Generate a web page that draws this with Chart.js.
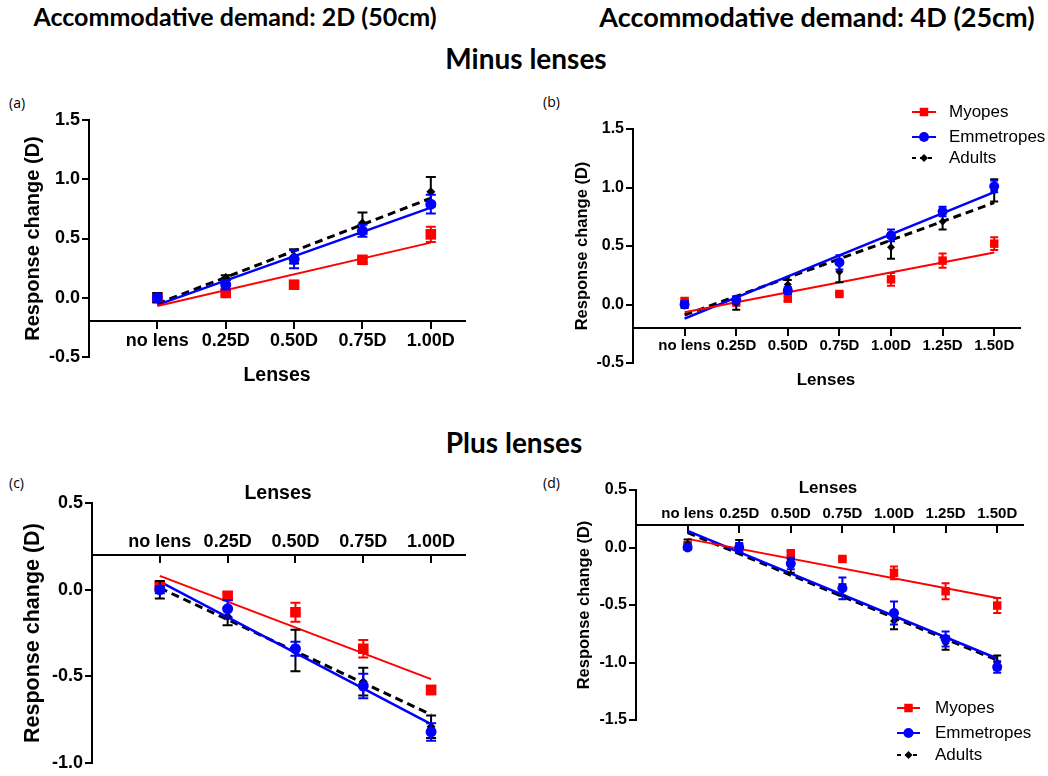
<!DOCTYPE html>
<html>
<head>
<meta charset="utf-8">
<title>Response change by lens power</title>
<script src="https://cdn.jsdelivr.net/npm/chart.js@4.4.0/dist/chart.umd.min.js"></script>
<style>
  body { margin: 0; background: #fff; }
  #page { position: relative; width: 1048px; height: 776px; overflow: hidden; background: #fff; }
  canvas { position: absolute; }
  .title { position: absolute; font-family: Lato, 'Open Sans', sans-serif; font-weight: 700; color: #000;
           white-space: nowrap; line-height: 1; transform: translate(-50%, -50%); }
  .xtitle { position: absolute; font-family: 'Liberation Sans', Arial, sans-serif; font-weight: 700; color: #000;
            white-space: nowrap; line-height: 1; transform: translate(-50%, -50%); }
  .tag { position: absolute; font-family: 'Open Sans', sans-serif; font-size: 14px; line-height: 1; color: #000;
         transform: translateY(-50%); }
</style>
</head>
<body>
<div id="page">
  <div class="title" style="left:235px;top:16px;font-size:25px">Accommodative demand: 2D (50cm)</div>
  <div class="title" style="left:817px;top:16px;font-size:27px">Accommodative demand: 4D (25cm)</div>
  <div class="title" style="left:526px;top:58px;font-size:28px">Minus lenses</div>
  <div class="title" style="left:514px;top:442px;font-size:28px">Plus lenses</div>

  <div class="tag" style="left:9px;top:103px">(a)</div>
  <div class="tag" style="left:543px;top:102px">(b)</div>
  <div class="tag" style="left:9px;top:483px">(c)</div>
  <div class="tag" style="left:543px;top:483px">(d)</div>

  <canvas id="chartA" width="500" height="310" style="left:0;top:90px"></canvas>
  <canvas id="chartB" width="528" height="310" style="left:520px;top:90px"></canvas>
  <canvas id="chartC" width="500" height="316" style="left:0;top:460px"></canvas>
  <canvas id="chartD" width="528" height="316" style="left:520px;top:460px"></canvas>

  <div class="xtitle" style="left:277px;top:375px;font-size:19.5px">Lenses</div>
  <div class="xtitle" style="left:826px;top:379px;font-size:17px">Lenses</div>
  <div class="xtitle" style="left:278px;top:493px;font-size:19.5px">Lenses</div>
  <div class="xtitle" style="left:828px;top:487px;font-size:17px">Lenses</div>
</div>

<script>
// categories
const lenses2D = ['no lens', '0.25D', '0.50D', '0.75D', '1.00D'];
const lenses4D = ['no lens', '0.25D', '0.50D', '0.75D', '1.00D', '1.25D', '1.50D'];
const seriesNames = ['Myopes', 'Emmetropes', 'Adults'];

// y tick values
const yTicksMinus = [-0.5, 0, 0.5, 1.0, 1.5];
const yTicksPlus2D = [-1.0, -0.5, 0, 0.5];
const yTicksPlus4D = [-1.5, -1.0, -0.5, 0, 0.5];

// (a) minus lenses, 2D demand -- means, SEM, fitted line ends (no lens / last lens)
const aMyopes = [0.00, 0.04, 0.11, 0.32, 0.535];
const aEmmetropes = [0.00, 0.11, 0.325, 0.565, 0.79];
const aAdults = [0.00, 0.17, 0.35, 0.63, 0.895];
const aMyopesErr = [0.02, 0.02, 0.01, 0.02, 0.065];
const aEmmetropesErr = [0.03, 0.04, 0.075, 0.05, 0.08];
const aAdultsErr = [0.04, 0.02, 0.06, 0.09, 0.125];
const aFit = [[-0.07, 0.465], [-0.06, 0.76], [-0.05, 0.84]];

// (b) minus lenses, 4D demand
const bMyopes = [0.03, 0.02, 0.05, 0.09, 0.215, 0.375, 0.52];
const bEmmetropes = [0.00, 0.04, 0.12, 0.36, 0.59, 0.795, 1.01];
const bAdults = [0.00, 0.01, 0.17, 0.28, 0.49, 0.71, 0.975];
const bMyopesErr = [0.02, 0.03, 0.02, 0.01, 0.055, 0.06, 0.055];
const bEmmetropesErr = [0.02, 0.03, 0.03, 0.06, 0.05, 0.04, 0.05];
const bAdultsErr = [0.03, 0.055, 0.04, 0.09, 0.10, 0.07, 0.095];
const bFit = [[-0.066, 0.445], [-0.12, 0.96], [-0.09, 0.87]];

// (c) plus lenses, 2D demand
const cMyopes = [0.02, -0.035, -0.13, -0.34, -0.578];
const cEmmetropes = [0.00, -0.11, -0.34, -0.555, -0.82];
const cAdults = [0.00, -0.155, -0.35, -0.53, -0.79];
const cMyopesErr = [0.02, 0.02, 0.055, 0.05, 0.025];
const cEmmetropesErr = [0.02, 0.05, 0.04, 0.07, 0.05];
const cAdultsErr = [0.05, 0.05, 0.12, 0.08, 0.065];
const cFit = [[0.08, -0.515], [0.047, -0.775], [0.01, -0.72]];

// (d) plus lenses, 4D demand
const dMyopes = [0.02, 0.00, -0.05, -0.10, -0.22, -0.38, -0.505];
const dEmmetropes = [0.00, 0.00, -0.14, -0.355, -0.57, -0.795, -1.04];
const dAdults = [0.03, 0.01, -0.16, -0.37, -0.64, -0.83, -1.00];
const dMyopesErr = [0.02, 0.02, 0.02, 0.01, 0.055, 0.07, 0.065];
const dEmmetropesErr = [0.02, 0.04, 0.05, 0.095, 0.10, 0.065, 0.05];
const dAdultsErr = [0.04, 0.055, 0.06, 0.05, 0.07, 0.06, 0.06];
const dFit = [[0.075, -0.44], [0.145, -0.965], [0.13, -0.98]];

const COLORS = ['#ff0000', '#0000ff', '#000000'];
const SHAPES = ['rect', 'circle', 'rectRot'];
const FONT = "'Liberation Sans', Arial, sans-serif";

// error bars, drawn just under each dataset's markers
const errorBars = {
    id: 'errorBars',
    beforeDatasetDraw(chart, args) {
        const ds = chart.data.datasets[args.index];
        if (!ds.errors) return;
        const { ctx, scales: { x, y } } = chart;
        const cap = ds.capWidth || 4;
        ctx.save();
        ctx.strokeStyle = ds.borderColor;
        ctx.lineWidth = 2;
        ds.data.forEach((p, i) => {
            const e = ds.errors[i];
            if (!e) return;
            const px = x.getPixelForValue(p.x);
            const top = y.getPixelForValue(p.y + e);
            const bot = y.getPixelForValue(p.y - e);
            ctx.beginPath();
            ctx.moveTo(px, top); ctx.lineTo(px, bot);
            ctx.moveTo(px - cap, top); ctx.lineTo(px + cap, top);
            ctx.moveTo(px - cap, bot); ctx.lineTo(px + cap, bot);
            ctx.stroke();
        });
        ctx.restore();
    }
};

function drawMarker(ctx, shape, x, y, r) {
    ctx.beginPath();
    if (shape === 'rect') {
        const h = r * Math.SQRT1_2;
        ctx.rect(x - h, y - h, 2 * h, 2 * h);
    } else if (shape === 'circle') {
        ctx.arc(x, y, r, 0, Math.PI * 2);
    } else {
        ctx.moveTo(x - r, y); ctx.lineTo(x, y - r); ctx.lineTo(x + r, y); ctx.lineTo(x, y + r);
        ctx.closePath();
    }
    ctx.fill();
}

// legend drawn at fixed spot inside the canvas
const sideLegend = {
    id: 'sideLegend',
    afterDraw(chart, args, o) {
        if (!o || !o.rows) return;
        const ctx = chart.ctx;
        ctx.save();
        seriesNames.forEach((name, k) => {
            const y = o.rows[k];
            ctx.strokeStyle = COLORS[k];
            ctx.fillStyle = COLORS[k];
            ctx.lineWidth = 2;
            ctx.setLineDash(k === 2 ? [4, 4] : []);
            ctx.beginPath();
            ctx.moveTo(o.x0, y); ctx.lineTo(o.x1, y);
            ctx.stroke();
            ctx.setLineDash([]);
            drawMarker(ctx, SHAPES[k], (o.x0 + o.x1) / 2, y, o.radius[k]);
            ctx.fillStyle = '#000';
            ctx.font = `${o.size}px ${FONT}`;
            ctx.textBaseline = 'middle';
            ctx.fillText(name, o.tx, y);
        });
        ctx.restore();
    }
};

function makePanel(id, lenses, values, errors, fits, yTicks, axisAt, s) {
    const datasets = [];
    const last = lenses.length - 1;
    values.forEach((vals, k) => {
        datasets.push({
            label: seriesNames[k],
            data: vals.map((v, i) => ({ x: i, y: v })),
            errors: errors[k],
            capWidth: s.cap,
            showLine: false,
            borderColor: COLORS[k],
            backgroundColor: COLORS[k],
            pointStyle: SHAPES[k],
            pointRadius: s.radius[k],
            pointBorderWidth: 0,
            order: [2, 0, 1][k]
        });
        datasets.push({
            label: seriesNames[k] + ' fit',
            data: fits[k].map((v, i) => ({ x: i * last, y: v })),
            showLine: true,
            pointRadius: 0,
            borderColor: COLORS[k],
            borderWidth: [2, 2.5, 3][k],
            borderDash: k === 2 ? [8, 5] : [],
            order: 3 + k
        });
    });

    return new Chart(document.getElementById(id), {
        type: 'scatter',
        data: { datasets },
        plugins: [errorBars, sideLegend],
        options: {
            responsive: false,
            animation: false,
            events: [],
            layout: { padding: { left: 0, top: s.top, right: s.right, bottom: s.bottom } },
            plugins: {
                legend: { display: false },
                tooltip: { enabled: false },
                sideLegend: s.legend || {}
            },
            scales: {
                x: {
                    type: 'linear',
                    min: -1,
                    max: last + 0.5,
                    position: { y: axisAt },
                    afterBuildTicks: sc => { sc.ticks = lenses.map((_, i) => ({ value: i })); },
                    ticks: {
                        callback: v => lenses[v],
                        font: { family: FONT, size: s.xTick, weight: 'bold' },
                        color: '#000',
                        padding: s.xPad,
                        autoSkip: false,
                        maxRotation: 0,
                        minRotation: 0
                    },
                    grid: { drawOnChartArea: false, color: '#000', lineWidth: 2, tickLength: 7 },
                    border: { color: '#000', width: 2 }
                },
                y: {
                    min: yTicks[0],
                    max: yTicks[yTicks.length - 1],
                    afterBuildTicks: sc => { sc.ticks = yTicks.map(v => ({ value: v })); },
                    afterFit: sc => { sc.width = s.yWidth; },
                    ticks: {
                        callback: v => v.toFixed(1),
                        font: { family: FONT, size: s.yTick, weight: 'bold' },
                        color: '#000',
                        padding: 2
                    },
                    title: {
                        display: true,
                        text: 'Response change (D)',
                        color: '#000',
                        font: { family: FONT, size: s.ytitle, weight: 'bold' },
                        padding: { top: s.titlePad, bottom: 0 }
                    },
                    grid: { drawOnChartArea: false, color: '#000', lineWidth: 2, tickLength: 7 },
                    border: { color: '#000', width: 2 }
                }
            }
        }
    });
}

makePanel('chartA', lenses2D,
    [aMyopes, aEmmetropes, aAdults], [aMyopesErr, aEmmetropesErr, aAdultsErr], aFit,
    yTicksMinus, -0.2,
    { top: 30, right: 35, bottom: 43, yWidth: 89, xTick: 18, yTick: 18, ytitle: 20, titlePad: 21, xPad: 2,
      radius: [7.5, 5.5, 4.5], cap: 5 });

makePanel('chartB', lenses4D,
    [bMyopes, bEmmetropes, bAdults], [bMyopesErr, bEmmetropesErr, bAdultsErr], bFit,
    yTicksMinus, -0.2,
    { top: 39, right: 28, bottom: 37, yWidth: 113, xTick: 15, yTick: 16, ytitle: 16.5, titlePad: 53, xPad: 2,
      radius: [6, 5, 4], cap: 4,
      legend: { rows: [22, 47, 68], x0: 392, x1: 416, tx: 429, size: 17, radius: [6, 5, 4] } });

makePanel('chartC', lenses2D,
    [cMyopes, cEmmetropes, cAdults], [cMyopesErr, cEmmetropesErr, cAdultsErr], cFit,
    yTicksPlus2D, 0.2,
    { top: 43, right: 35, bottom: 11, yWidth: 92, xTick: 18, yTick: 18, ytitle: 21.5, titlePad: 20, xPad: -31,
      radius: [7.5, 5.5, 4.5], cap: 5 });

makePanel('chartD', lenses4D,
    [dMyopes, dEmmetropes, dAdults], [dMyopesErr, dEmmetropesErr, dAdultsErr], dFit,
    yTicksPlus4D, 0.2,
    { top: 30, right: 25, bottom: 56, yWidth: 116, xTick: 15, yTick: 16, ytitle: 16.5, titlePad: 55, xPad: -27,
      radius: [6, 5, 4], cap: 4,
      legend: { rows: [248, 273, 295], x0: 377, x1: 400, tx: 415, size: 17, radius: [6, 5, 4] } });
</script>
</body>
</html>
